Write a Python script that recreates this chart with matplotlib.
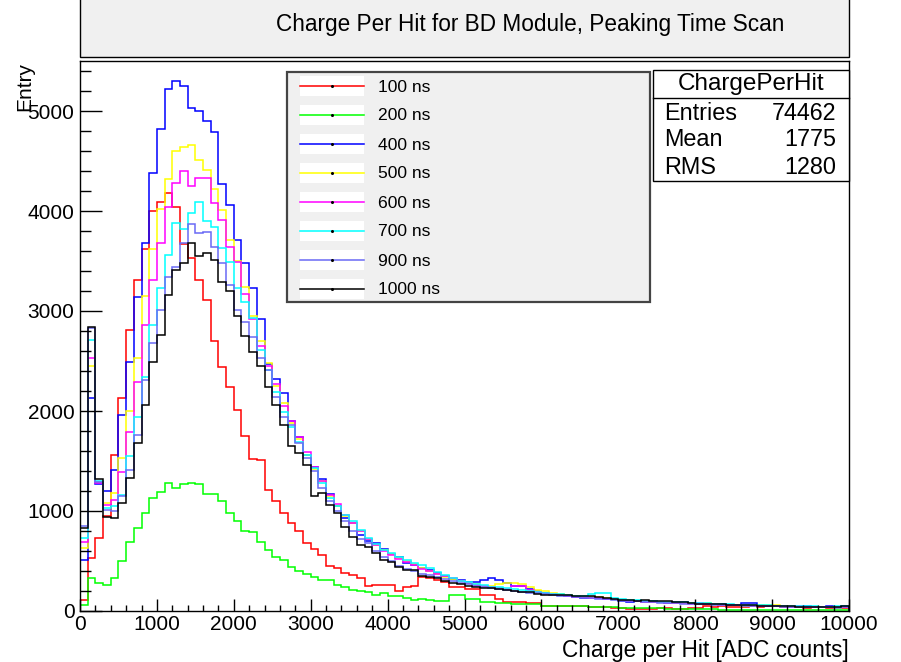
import numpy as np
import matplotlib
matplotlib.use("Agg")
from matplotlib import pyplot as plt
from matplotlib.patches import Rectangle
from matplotlib.ticker import MultipleLocator

plt.rcParams['font.family'] = ['Liberation Sans', 'DejaVu Sans']

# 100 bins of 100 ADC counts, 0..10000
edges = np.arange(0, 10001, 100)

labels = ["100 ns", "200 ns", "400 ns", "500 ns", "600 ns", "700 ns", "900 ns", "1000 ns"]
colors = ["#ff0000", "#00ff00", "#0000ff", "#ffff00", "#ff00ff", "#00ffff", "#6a6af5", "#000000"]

ns100 = [110, 527, 730, 950, 1560, 2130, 2810, 3310, 3620, 4000,
         4093, 4183, 4040, 3667, 3530, 3310, 3115, 2700, 2443, 2240,
         2010, 1750, 1517, 1510, 1215, 1103, 983, 883, 800, 677,
         620, 560, 453, 430, 385, 365, 327, 250, 260, 260,
         260, 200, 243, 250, 340, 330, 310, 290, 243, 243,
         220, 220, 160, 160, 117, 93, 93, 93, 77, 77,
         53, 53, 55, 50, 53, 50, 37, 40, 37, 35,
         30, 25, 20, 20, 25, 30, 35, 25, 20, 30,
         35, 50, 45, 55, 40, 45, 40, 50, 45, 55,
         50, 45, 40, 45, 35, 40, 45, 35, 40, 30]
ns200 = [60, 327, 277, 260, 327, 500, 693, 827, 977, 1130,
         1190, 1277, 1227, 1270, 1283, 1270, 1167, 1167, 1103, 983,
         903, 803, 790, 693, 615, 540, 515, 443, 400, 370,
         337, 315, 315, 260, 237, 210, 203, 190, 165, 177,
         153, 150, 127, 110, 120, 115, 100, 100, 160, 160,
         117, 117, 93, 93, 77, 77, 67, 67, 67, 67,
         50, 50, 50, 50, 50, 50, 37, 37, 37, 37,
         27, 27, 27, 27, 27, 27, 22, 22, 22, 20,
         20, 18, 18, 15, 15, 15, 15, 12, 12, 12,
         12, 12, 10, 10, 10, 10, 10, 10, 8, 8]
ns400 = [510, 2130, 1270, 1203, 1410, 1960, 2493, 3143, 3677, 4377,
         4817, 5217, 5303, 5250, 5027, 5003, 4900, 4793, 4267, 4060,
         3710, 3477, 3227, 2917, 2470, 2317, 2183, 1903, 1740, 1560,
         1437, 1323, 1167, 1050, 933, 877, 760, 697, 677, 617,
         573, 537, 477, 460, 427, 410, 380, 355, 325, 310,
         295, 293, 310, 333, 310, 283, 250, 250, 222, 200,
         185, 170, 165, 150, 140, 135, 140, 130, 125, 120,
         100, 95, 100, 95, 100, 95, 85, 95, 90, 80,
         75, 75, 70, 70, 65, 60, 80, 85, 60, 55,
         55, 50, 45, 45, 50, 45, 40, 50, 45, 55]
ns500 = [630, 2450, 1290, 1077, 1177, 1527, 2000, 2527, 3150, 3620,
         4020, 4317, 4603, 4637, 4660, 4510, 4410, 4217, 4010, 3710,
         3503, 3243, 2950, 2700, 2480, 2250, 2080, 1880, 1720, 1560,
         1420, 1300, 1150, 1050, 950, 880, 800, 720, 660, 610,
         570, 530, 500, 470, 430, 400, 370, 345, 320, 300,
         285, 270, 255, 250, 270, 280, 280, 275, 240, 215,
         200, 185, 170, 160, 150, 145, 140, 140, 130, 120,
         110, 110, 100, 95, 95, 90, 90, 85, 80, 80,
         75, 80, 70, 65, 60, 60, 55, 55, 65, 65,
         60, 50, 45, 45, 40, 45, 40, 40, 35, 40]
ns600 = [690, 2530, 1285, 1060, 1110, 1393, 1793, 2293, 2860, 3310,
         3677, 4043, 4283, 4400, 4250, 4327, 4327, 4077, 3910, 3643,
         3493, 3170, 2920, 2650, 2450, 2270, 2050, 1900, 1740, 1590,
         1440, 1300, 1160, 1070, 960, 880, 800, 720, 660, 600,
         560, 520, 490, 460, 420, 405, 375, 350, 330, 300,
         285, 265, 250, 245, 235, 225, 250, 250, 210, 195,
         185, 175, 160, 150, 145, 140, 135, 135, 125, 120,
         115, 105, 100, 95, 90, 95, 85, 85, 80, 75,
         80, 75, 70, 65, 60, 65, 60, 55, 55, 50,
         55, 50, 45, 50, 45, 40, 45, 40, 40, 40]
ns700 = [730, 2710, 1300, 1027, 1050, 1160, 1550, 1937, 2343, 2860,
         3227, 3560, 3877, 3817, 3977, 4093, 3903, 3843, 3627, 3493,
         3227, 3093, 2927, 2610, 2410, 2193, 1993, 1843, 1693, 1560,
         1427, 1277, 1127, 1050, 960, 900, 810, 730, 670, 610,
         580, 540, 510, 480, 460, 430, 395, 360, 330, 305,
         290, 275, 260, 245, 240, 230, 220, 215, 200, 190,
         180, 175, 170, 160, 155, 150, 175, 183, 180, 135,
         125, 115, 110, 105, 100, 95, 95, 90, 90, 85,
         80, 80, 75, 70, 70, 65, 65, 60, 60, 60,
         55, 55, 50, 50, 50, 50, 45, 45, 50, 50]
ns900 = [850, 2830, 1295, 1010, 1000, 1150, 1410, 1760, 2310, 2677,
         3010, 3343, 3443, 3683, 3870, 3777, 3793, 3643, 3477, 3260,
         3010, 2893, 2743, 2527, 2410, 2143, 1943, 1860, 1677, 1527,
         1400, 1230, 1100, 1000, 900, 800, 720, 680, 600, 540,
         500, 450, 420, 400, 370, 360, 340, 320, 300, 285,
         270, 255, 245, 230, 220, 210, 205, 195, 185, 180,
         170, 160, 155, 150, 140, 135, 130, 125, 120, 115,
         105, 100, 100, 95, 90, 85, 85, 80, 75, 75,
         70, 70, 65, 65, 60, 60, 55, 55, 50, 50,
         50, 45, 45, 45, 40, 40, 40, 40, 35, 40]
ns1000 = [830, 2843, 1320, 943, 927, 1083, 1327, 1677, 2060, 2493,
          2760, 3160, 3410, 3483, 3683, 3550, 3583, 3510, 3293, 3203,
          2953, 2750, 2593, 2450, 2243, 2060, 1860, 1650, 1583, 1460,
          1150, 1183, 1060, 977, 843, 743, 660, 643, 583, 510,
          493, 437, 410, 410, 350, 345, 330, 305, 285, 270,
          255, 245, 235, 230, 220, 210, 200, 195, 190, 175,
          160, 160, 165, 160, 155, 150, 150, 145, 130, 120,
          115, 110, 105, 110, 105, 100, 100, 95, 90, 85,
          75, 75, 70, 70, 65, 65, 60, 60, 55, 55,
          55, 50, 50, 45, 45, 45, 45, 45, 45, 50]

series = [ns100, ns200, ns400, ns500, ns600, ns700, ns900, ns1000]

stat_names = ["Entries", "Mean", "RMS"]
stat_values = ["74462", "1775", "1280"]

W, H = 901, 662
fig = plt.figure(figsize=(W / 100, H / 100), dpi=100)
fig.patch.set_facecolor("white")

ax = fig.add_axes([80 / W, 1 - 611 / H, (849 - 80) / W, (611 - 61) / H])
for vals, c in zip(series, colors):
    ax.stairs(vals, edges, color=c, lw=1.1)

ax.set_xlim(0, 10000)
ax.set_ylim(0, 5500)
ax.xaxis.set_major_locator(MultipleLocator(1000))
ax.xaxis.set_minor_locator(MultipleLocator(200))
ax.yaxis.set_major_locator(MultipleLocator(1000))
ax.yaxis.set_minor_locator(MultipleLocator(200))
ax.tick_params(axis="x", which="major", direction="in", length=9, width=1, labelsize=15, pad=3)
ax.tick_params(axis="x", which="minor", direction="in", length=4.5, width=1)
ax.tick_params(axis="y", which="major", direction="in", length=16, width=1, labelsize=15, pad=4)
ax.tick_params(axis="y", which="minor", direction="in", length=8, width=1)
for s in ax.spines.values():
    s.set_linewidth(1)

# overlay in pixel coordinates for title box, legend and stats box
ov = fig.add_axes([0, 0, 1, 1], facecolor="none")
ov.set_xlim(0, W)
ov.set_ylim(H, 0)
ov.axis("off")

ov.add_patch(Rectangle((80, -2), 769, 59, fc="#f0f0f0", ec="black", lw=1))
ov.text(530, 25, "Charge Per Hit for BD Module, Peaking Time Scan",
        ha="center", va="center", fontsize=16.3)

# legend
ov.add_patch(Rectangle((287, 72), 363, 230, fc="#f0f0f0", ec="#444444", lw=1.6))
for i, (lab, c) in enumerate(zip(labels, colors)):
    yy = 86 + i * 29
    ov.add_patch(Rectangle((300, yy - 10), 64, 20, fc="white", ec="none"))
    ov.plot([300, 364], [yy, yy], color=c, lw=1.1)
    ov.plot([332], [yy], marker="o", ms=1.2, color="black")
    ov.text(378, yy + 1, lab, ha="left", va="center", fontsize=12.6)

# stats box
ov.add_patch(Rectangle((653, 70), 196, 111, fc="white", ec="black", lw=1))
ov.plot([653, 849], [98, 98], color="black", lw=1)
ov.text(751, 84, "ChargePerHit", ha="center", va="center", fontsize=17.5)
for i, (n, v) in enumerate(zip(stat_names, stat_values)):
    yy = 113 + i * 27
    ov.text(664, yy, n, ha="left", va="center", fontsize=16.8)
    ov.text(836, yy, v, ha="right", va="center", fontsize=16.8)

ov.text(25, 62, "Entry", rotation=90, ha="center", va="top", fontsize=15)
ov.text(849, 650, "Charge per Hit [ADC counts]", ha="right", va="center", fontsize=16.3)

fig.savefig("out.png", dpi=100)
